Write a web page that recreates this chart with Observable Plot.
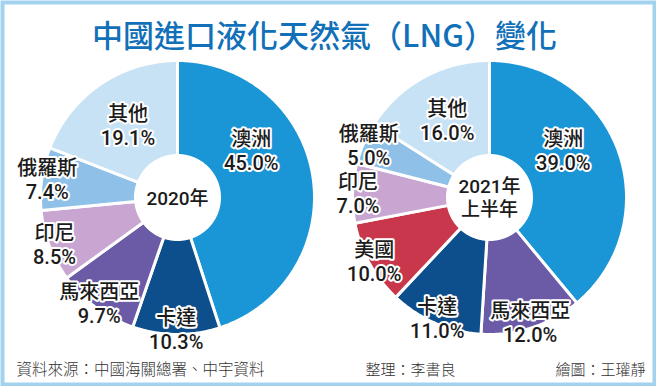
<!DOCTYPE html>
<html>
<head>
<meta charset="utf-8">
<script src="https://cdn.jsdelivr.net/npm/d3@7"></script>
<script src="https://cdn.jsdelivr.net/npm/@observablehq/plot@0.6"></script>
<style>
  html, body { margin: 0; padding: 0; background: #fff; }
  #chart svg { display: block; }
  #chart g[aria-label="title"] text { font-feature-settings: "palt"; }
</style>
</head>
<body>
<div id="chart"></div>
<script>
// ---------- data ----------
const title = "中國進口液化天然氣（LNG）變化";
const periods = ["2020年", "2021年\n上半年"];
const countries2020 = ["澳洲", "卡達", "馬來西亞", "印尼", "俄羅斯", "其他"];
const shares2020 = [45.0, 10.3, 9.7, 8.5, 7.4, 19.1];
const countries2021 = ["澳洲", "馬來西亞", "卡達", "美國", "印尼", "俄羅斯", "其他"];
const shares2021 = [39.0, 12.0, 11.0, 10.0, 7.0, 5.0, 16.0];
const source = "資料來源：中國海關總署、中宇資料";
const editor = "整理：李書良";
const artist = "繪圖：王瓘靜";

// ---------- styles / layout ----------
const colorDomain = ["澳洲", "卡達", "馬來西亞", "印尼", "俄羅斯", "其他", "美國"];
const colorRange  = ["#1a95d6", "#0d4e8c", "#6b5aa6", "#c9a6d2", "#8ec0e8", "#c7e2f5", "#c8374b"];
const W = 656, H = 386;
const layout = [{cx: 177, cy: 197}, {cx: 489, cy: 197}];
const R = 137, R0 = 42;
const font = "'Noto Sans CJK TC', 'Noto Sans', sans-serif";
const labelFont = "Roboto, 'Noto Sans CJK TC', sans-serif";

// ---------- build geometry from data ----------
const pieData = [
  {period: periods[0], countries: countries2020, shares: shares2020},
  {period: periods[1], countries: countries2021, shares: shares2021}
];
const pts = [], labels = [], centers = [];
pieData.forEach((p, pi) => {
  const {cx, cy} = layout[pi];
  const arcs = d3.pie().sort(null)(p.shares);
  centers.push({x: cx, y: cy, text: p.period});
  arcs.forEach((a, i) => {
    const key = pi + "-" + i, country = p.countries[i];
    const n = Math.max(4, Math.ceil((a.endAngle - a.startAngle) / 0.01));
    for (let k = 0; k <= n; k++) {
      const t = a.startAngle + (a.endAngle - a.startAngle) * k / n;
      pts.push({key, country, x: cx + R * Math.sin(t), y: cy - R * Math.cos(t)});
    }
    for (let k = n; k >= 0; k--) {
      const t = a.startAngle + (a.endAngle - a.startAngle) * k / n;
      pts.push({key, country, x: cx + R0 * Math.sin(t), y: cy - R0 * Math.cos(t)});
    }
    const mid = (a.startAngle + a.endAngle) / 2;
    const big = a.value >= 15;
    // the large slice that starts at the top keeps its label in the upper part
    const ang = (a.startAngle === 0 && big) ? Math.min(mid, 1.0) : mid;
    const lr = big ? 0.64 * R : 0.96 * R;
    labels.push({
      x: cx + lr * Math.sin(ang),
      y: cy - lr * Math.cos(ang),
      text: country + "\n" + a.value.toFixed(1) + "%"
    });
  });
});

const chart = Plot.plot({
  width: W, height: H,
  margin: 0,
  style: {fontFamily: font, background: "#fff"},
  x: {domain: [0, W], range: [0, W], axis: null},
  y: {domain: [0, H], range: [0, H], axis: null},
  color: {domain: colorDomain, range: colorRange},
  marks: [
    Plot.line(pts, {x: "x", y: "y", z: "key", fill: "country", stroke: "white", strokeWidth: 3, curve: "linear-closed"}),
    Plot.text(labels, {x: "x", y: "y", text: "text", fontSize: 20, fontWeight: 500, lineHeight: 1.2,
      fontFamily: labelFont, fill: "#1b1b1b", stroke: "white", strokeWidth: 4}),
    Plot.text(centers, {x: "x", y: "y", text: "text", fontSize: 19, fontWeight: 500, lineHeight: 1.2,
      fontFamily: labelFont, fill: "#1b1b1b"}),
    Plot.text([title], {text: d => d, frameAnchor: "top", dx: -4, dy: 24, fontSize: 31, fontWeight: 500, fill: "#1170b8", ariaLabel: "title"}),
    Plot.text([source], {text: d => d, frameAnchor: "bottom-left", dx: 16, dy: -12, fontSize: 15.5, fontWeight: 300, fill: "#333"}),
    Plot.text([editor], {text: d => d, frameAnchor: "bottom-left", dx: 365, dy: -12, fontSize: 15, fontWeight: 300, fill: "#333"}),
    Plot.text([artist], {text: d => d, frameAnchor: "bottom-right", dx: -11, dy: -12, fontSize: 15, fontWeight: 300, fill: "#333"}),
    Plot.frame({stroke: "#a3d2ef", strokeWidth: 4, inset: 2})
  ]
});
document.getElementById("chart").appendChild(chart);
</script>
</body>
</html>
